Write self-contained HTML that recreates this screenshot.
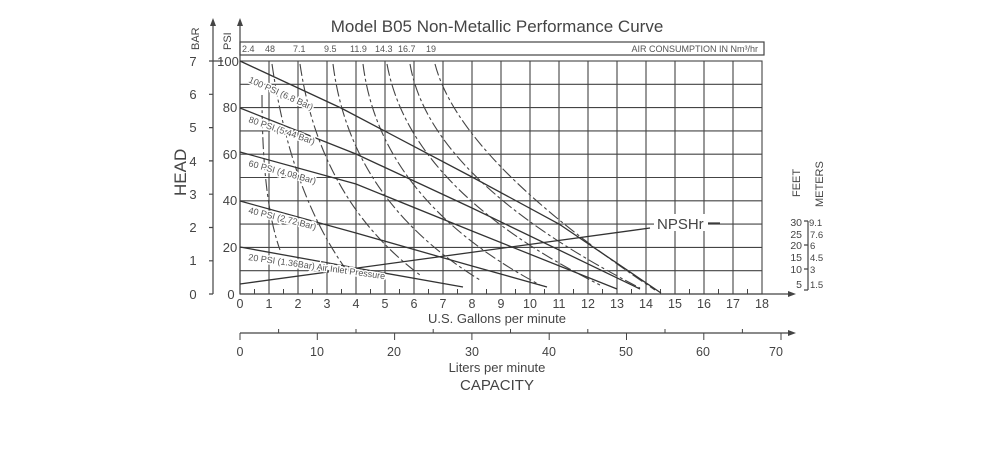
<!DOCTYPE html>
<html><head><meta charset="utf-8"><style>
body{margin:0;background:#fff;}
svg{display:block;font-family:"Liberation Sans",sans-serif;fill:#444;}
.h{paint-order:stroke;stroke:#fff;stroke-width:3px;}
</style></head><body>
<svg width="1000" height="470" viewBox="0 0 1000 470" xmlns="http://www.w3.org/2000/svg">
<text x="497" y="32" font-size="17" text-anchor="middle" fill="#444">Model B05 Non-Metallic Performance Curve</text>
<rect x="240" y="42" width="524" height="13" fill="none" stroke="#444" stroke-width="1.2"/>
<g font-size="9" fill="#555">
<text x="242" y="52">2.4</text><text x="265" y="52">48</text><text x="293" y="52">7.1</text>
<text x="324" y="52">9.5</text><text x="350" y="52">11.9</text><text x="375" y="52">14.3</text>
<text x="398" y="52">16.7</text><text x="426" y="52">19</text>
<text x="758" y="52" text-anchor="end">AIR CONSUMPTION IN Nm³/hr</text>
</g>
<g stroke="#444" stroke-width="1.1" fill="none">
<rect x="240" y="61" width="522" height="233"/>
<path d="M269 61V294M298 61V294M327 61V294M356 61V294M385 61V294M414 61V294M443 61V294M472 61V294M501 61V294M530 61V294M559 61V294M588 61V294M617 61V294M646 61V294M675 61V294M704 61V294M733 61V294"/>
<path d="M240 84.3H762M240 107.6H762M240 130.9H762M240 154.2H762M240 177.5H762M240 200.8H762M240 224.1H762M240 247.4H762M240 270.7H762"/>
</g>
<g stroke="#444" stroke-width="1.2" fill="none">
<path d="M240 294V24"/><path d="M213 294V24"/>
<path d="M240 294H790"/>
<path d="M240 333H790"/>
<path d="M213 61h-4M213 94.3h-4M213 127.6h-4M213 160.9h-4M213 194.2h-4M213 227.5h-4M213 260.8h-4M213 294h-4"/>
<path d="M213 61h10"/>
<path d="M808 221V290M808 221h-4M808 245h-4M808 269h-4M808 290h-4"/>
</g>
<g fill="#444"><path d="M240 18l-3 8h6z"/><path d="M213 18l-3 8h6z"/><path d="M796 294l-8-3v6z"/><path d="M796 333l-8-3v6z"/></g>
<g stroke="#444" stroke-width="1">
<path d="M254.5 294v-5M283.5 294v-5M312.5 294v-5M341.5 294v-5M370.5 294v-5M399.5 294v-5M428.5 294v-5M457.5 294v-5M486.5 294v-5M515.5 294v-5M544.5 294v-5M573.5 294v-5M602.5 294v-5M631.5 294v-5M660.5 294v-5M689.5 294v-5M718.5 294v-5M747.5 294v-5"/>
<path d="M240 333v7M317.3 333v7M394.6 333v7M471.9 333v7M549.2 333v7M626.5 333v7M703.8 333v7M781 333v7M278.6 333v-4M356 333v-4M433.2 333v-4M510.5 333v-4M587.8 333v-4M665 333v-4M742.4 333v-4"/>
</g>
<g font-size="13" fill="#444" text-anchor="middle">
<text x="193" y="66">7</text><text x="193" y="99">6</text><text x="193" y="132">5</text><text x="193" y="166">4</text><text x="193" y="199">3</text><text x="193" y="232">2</text><text x="193" y="265">1</text><text x="193" y="299">0</text>
<text x="228" y="66">100</text><text x="230" y="112">80</text><text x="230" y="159">60</text><text x="230" y="205">40</text><text x="230" y="252">20</text><text x="231" y="299">0</text>
</g>
<text transform="translate(199,50) rotate(-90)" font-size="11">BAR</text>
<text transform="translate(231,50) rotate(-90)" font-size="11">PSI</text>
<text transform="translate(186,196) rotate(-90)" font-size="17">HEAD</text>
<g font-size="12.5" fill="#444" text-anchor="middle">
<text x="240" y="308">0</text><text x="269" y="308">1</text><text x="298" y="308">2</text><text x="327" y="308">3</text><text x="356" y="308">4</text><text x="385" y="308">5</text><text x="414" y="308">6</text><text x="443" y="308">7</text><text x="472" y="308">8</text><text x="501" y="308">9</text><text x="530" y="308">10</text><text x="559" y="308">11</text><text x="588" y="308">12</text><text x="617" y="308">13</text><text x="646" y="308">14</text><text x="675" y="308">15</text><text x="704" y="308">16</text><text x="733" y="308">17</text><text x="762" y="308">18</text>
<text x="497" y="323" font-size="13">U.S. Gallons per minute</text>
<text x="240" y="356">0</text><text x="317" y="356">10</text><text x="394" y="356">20</text><text x="472" y="356">30</text><text x="549" y="356">40</text><text x="626" y="356">50</text><text x="703" y="356">60</text><text x="776" y="356">70</text>
<text x="497" y="372" font-size="13">Liters per minute</text>
<text x="497" y="390" font-size="15">CAPACITY</text>
</g>
<text transform="translate(800,197) rotate(-90)" font-size="11">FEET</text>
<text transform="translate(823,207) rotate(-90)" font-size="11">METERS</text>
<g font-size="10.5" text-anchor="end"><text x="802" y="226">30</text><text x="802" y="238">25</text><text x="802" y="249">20</text><text x="802" y="261">15</text><text x="802" y="273">10</text><text x="802" y="288">5</text></g>
<g font-size="9.5"><text x="809" y="226">9.1</text><text x="810" y="238">7.6</text><text x="810" y="249">6</text><text x="810" y="261">4.5</text><text x="810" y="273">3</text><text x="810" y="288">1.5</text></g>
<g stroke="#444" stroke-width="1.1" fill="none" stroke-dasharray="12,3,3,3">
<path d="M262 95Q262 200 280 250"/>
<path d="M272 64Q290 190 345 268"/>
<path d="M300 64Q320 200 420 275"/>
<path d="M333 64Q350 200 480 280"/>
<path d="M363 64Q380 200 540 285"/>
<path d="M387 64Q410 190 600 285"/>
<path d="M410 64Q430 180 640 288"/>
<path d="M435 64Q460 160 655 290"/>
</g>
<g stroke="#333" stroke-width="1.3" fill="none">
<path d="M240 61L341 108L472 177L559 224L661 293"/>
<path d="M240 108L356 154L472 208L640 289"/>
<path d="M240 152L356 184L472 231L617 289"/>
<path d="M240 201L356 233L472 266L547 287"/>
<path d="M240 247L356 268L463 287"/>
<path d="M240 284L650 228"/>
</g>
<rect x="654" y="214" width="54" height="17" fill="#fff"/>
<path d="M708 223H720" stroke="#333" stroke-width="1.2"/>
<text x="657" y="229" font-size="15" fill="#444">NPSHr</text>
<g font-size="9" fill="#555" class="h">
<text transform="translate(248,82) rotate(24)">100 PSI (6.8 Bar)</text>
<text transform="translate(248,122) rotate(19)">80 PSI (5.44 Bar)</text>
<text transform="translate(248,166) rotate(15)">60 PSI (4.08 Bar)</text>
<text transform="translate(248,213) rotate(14)">40 PSI (2.72 Bar)</text>
<text transform="translate(248,260) rotate(8)">20 PSI (1.36Bar) Air Inlet Pressure</text>
</g>
</svg>
</body></html>
